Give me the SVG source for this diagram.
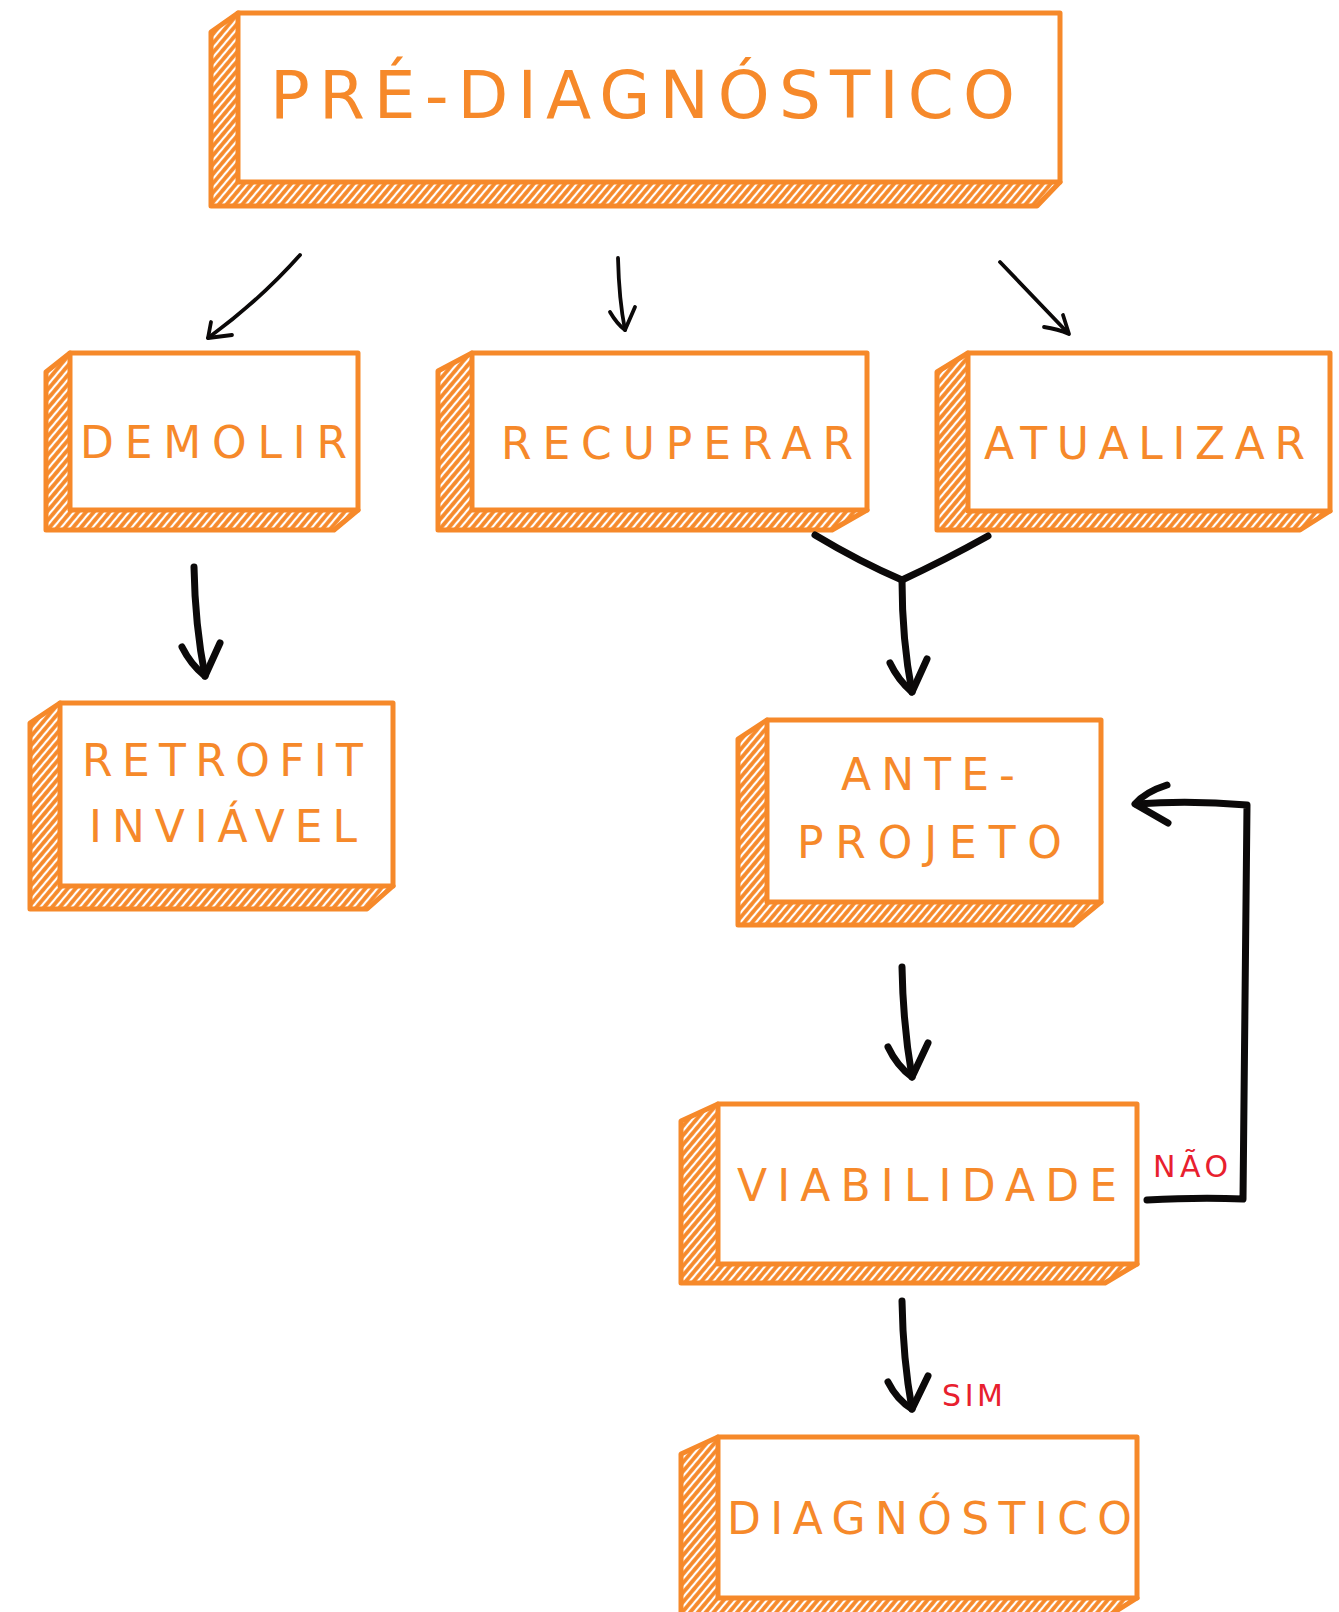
<svg xmlns="http://www.w3.org/2000/svg" width="1339" height="1612" viewBox="0 0 1339 1612">
<defs>
<pattern id="hatch" patternUnits="userSpaceOnUse" width="6" height="6" patternTransform="rotate(40)">
<rect width="6" height="6" fill="#F6892A"/>
<line x1="2" y1="0" x2="2" y2="6" stroke="#fff" stroke-width="2.2"/>
</pattern>
<style>
.side{fill:url(#hatch);stroke:#F6892A;stroke-width:5;stroke-linejoin:round}
.face{fill:#fff;stroke:#F6892A;stroke-width:5;stroke-linejoin:round}
.lbl{font-family:"DejaVu Sans","Open Sans",sans-serif;fill:#F6892A;font-size:44px}
.big{font-size:66px}
.cond{font-family:"DejaVu Sans","Open Sans",sans-serif;fill:#E8202E;font-size:30px}
.ln{fill:none;stroke:#0b0909;stroke-width:3.8;stroke-linecap:round;stroke-linejoin:round}
.tk{stroke-width:7}
</style>
</defs>
<rect width="1339" height="1612" fill="#fff"/>

<g id="node-pre-diagnostico">
<path class="side" d="M238,13 L211,32 L211,206 L1037,206 L1060,182 Z"/>
<rect class="face" x="238" y="13" width="822" height="169"/>
<text class="lbl big" x="270" y="118" textLength="745" lengthAdjust="spacing">PRÉ-DIAGNÓSTICO</text>
</g>

<g id="node-demolir">
<path class="side" d="M70,353 L46,372 L46,530 L334,530 L358,510 Z"/>
<rect class="face" x="70" y="353" width="288" height="157"/>
<text class="lbl" x="80" y="458" textLength="267" lengthAdjust="spacing">DEMOLIR</text>
</g>

<g id="node-recuperar">
<path class="side" d="M472,353 L438,371 L438,530 L832,530 L867,510 Z"/>
<rect class="face" x="472" y="353" width="395" height="157"/>
<text class="lbl" x="501" y="458.5" textLength="352" lengthAdjust="spacing">RECUPERAR</text>
</g>

<g id="node-atualizar">
<path class="side" d="M968,353 L937,372 L937,530 L1300,530 L1330,511 Z"/>
<rect class="face" x="968" y="353" width="362" height="158"/>
<text class="lbl" x="984" y="458.5" textLength="321" lengthAdjust="spacing">ATUALIZAR</text>
</g>

<g id="node-retrofit">
<path class="side" d="M60,703 L30,723 L30,909 L367,909 L393,886 Z"/>
<rect class="face" x="60" y="703" width="333" height="183"/>
<text class="lbl" x="82" y="775.5" textLength="281" lengthAdjust="spacing">RETROFIT</text>
<text class="lbl" x="89" y="841.5" textLength="268" lengthAdjust="spacing">INVIÁVEL</text>
</g>

<g id="node-anteprojeto">
<path class="side" d="M767,720 L738,739 L738,925 L1073,925 L1101,902 Z"/>
<rect class="face" x="767" y="720" width="334" height="182"/>
<text class="lbl" x="841" y="790" textLength="174" lengthAdjust="spacing">ANTE-</text>
<text class="lbl" x="797" y="858" textLength="265" lengthAdjust="spacing">PROJETO</text>
</g>

<g id="node-viabilidade">
<path class="side" d="M718,1104 L681,1121 L681,1283 L1105,1283 L1137,1264 Z"/>
<rect class="face" x="718" y="1104" width="419" height="160"/>
<text class="lbl" x="737" y="1200.5" textLength="380" lengthAdjust="spacing">VIABILIDADE</text>
</g>

<g id="node-diagnostico">
<path class="side" d="M718,1437 L681,1454 L681,1618 L1105,1618 L1137,1598 Z"/>
<rect class="face" x="718" y="1437" width="419" height="161"/>
<text class="lbl" x="727" y="1533.5" textLength="405" lengthAdjust="spacing">DIAGNÓSTICO</text>
</g>

<g id="connectors">
<path class="ln" d="M300,255 C276,282 245,311 208,338"/>
<path class="ln" d="M211,322 L208,338 L232,335"/>
<path class="ln" d="M618,258 Q619,300 625,330"/>
<path class="ln" d="M610,312 Q617,324 625,330 L635,307"/>
<path class="ln" d="M1000,262 L1068,333"/>
<path class="ln" d="M1044,327 Q1058,329 1069,334 L1063,315"/>
<path class="ln tk" d="M194,567 Q195,625 205,676"/>
<path class="ln tk" d="M182,647 Q191,665 205,676 L220,643"/>
<path class="ln tk" d="M815,535 Q860,562 902,580 Q945,560 988,536"/>
<path class="ln tk" d="M902,580 Q902,640 912,692"/>
<path class="ln tk" d="M890,663 Q898,680 912,692 L927,659"/>
<path class="ln tk" d="M902,967 Q903,1025 912,1077"/>
<path class="ln tk" d="M888,1047 Q897,1066 912,1077 L928,1043"/>
<path class="ln tk" d="M902,1301 Q903,1360 912,1409"/>
<path class="ln tk" d="M888,1382 Q897,1400 912,1409 L928,1376"/>
<path class="ln tk" d="M1147,1200 Q1200,1197 1243,1199 L1247,805 Q1190,800 1136,804"/>
<path class="ln tk" d="M1167,785 Q1145,792 1135,804 L1168,823"/>
<text class="cond" x="1153" y="1177" textLength="75" lengthAdjust="spacing">NÃO</text>
<text class="cond" x="942" y="1406" textLength="61" lengthAdjust="spacing">SIM</text>
</g>
</svg>
